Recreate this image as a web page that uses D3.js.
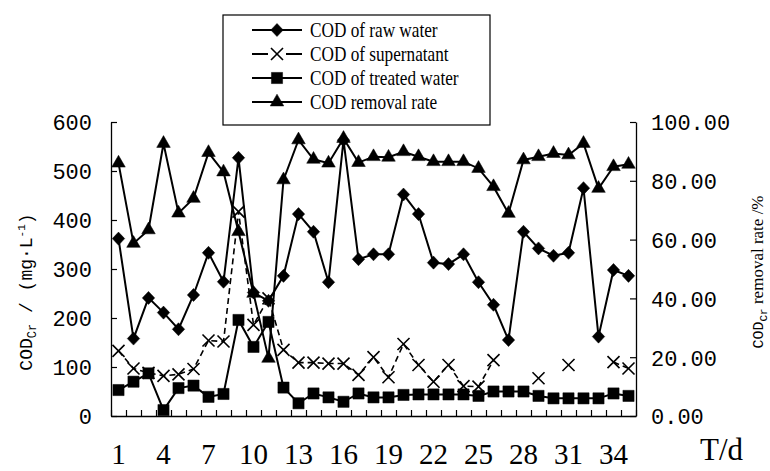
<!DOCTYPE html>
<html><head><meta charset="utf-8">
<script src="https://cdn.jsdelivr.net/npm/d3@7"></script>
<style>body{margin:0;background:#fff}svg{display:block}</style>
</head><body>
<svg id="c" width="770" height="471"></svg>
<script>
const days = d3.range(1, 36);
const xTickLabels = [1,4,7,10,13,16,19,22,25,28,31,34];
const leftTicks = [0,100,200,300,400,500,600];
const rightTicks = [0,20,40,60,80,100];
const rawWater = [362,158,241,211,177,247,333,274,527,252,235,286,412,376,273,563,320,330,330,452,412,313,310,330,273,227,155,376,342,327,333,465,162,298,286];
const supernatant = [133,97,88,82,85,96,154,152,417,186,240,135,109,109,107,107,84,120,79,147,104,70,104,61,60,114,null,null,77,null,104,null,null,110,97];
const treatedWater = [53,70,87,12,57,62,39,45,196,141,192,58,26,46,38,29,46,38,38,43,44,44,44,44,41,50,50,50,41,36,36,36,36,46,41];
const removalRate = [86.0,58.7,63.3,92.7,69.0,74.0,89.6,83.0,62.7,41.7,19.6,80.3,93.9,87.3,86.0,94.4,86.2,88.2,88.0,89.9,88.2,86.5,86.5,86.5,84.2,78.0,68.9,87.1,88.2,89.3,88.8,92.7,77.4,84.8,85.6];
const legendLabels = ["COD of raw water","COD of supernatant","COD of treated water","COD removal rate"];

const svg = d3.select("#c");
const L = 111, R = 636, T = 122, B = 416;
const x = d3.scaleBand().domain(days).range([L, R]).padding(0);
const xb = d3.scaleLinear().domain([0, days.length]).range([L, R]);
const cx = d => x(d) + x.bandwidth() / 2;
const yL = d3.scaleLinear().domain([0, 600]).range([B, T]);
const yR = d3.scaleLinear().domain([0, 100]).range([B, T]);

const mono = "'Liberation Mono', monospace";
const serif = "'Liberation Serif', 'Times New Roman', serif";

// Axes
svg.append("g").attr("transform", `translate(0,${B})`)
  .call(d3.axisBottom(xb).tickValues(d3.range(0, days.length + 1)).tickSize(-6).tickSizeOuter(0).tickFormat(""));
const gxLab = svg.append("g").attr("transform", `translate(0,${B})`)
  .call(d3.axisBottom(x).tickValues(xTickLabels).tickSize(0).tickPadding(0));
gxLab.select(".domain").remove();
gxLab.selectAll("text").attr("dy", null).attr("y", 48).attr("font-family", serif).attr("font-size", 29).attr("fill", "#000");

const gl = svg.append("g").attr("transform", `translate(${L},0)`)
  .call(d3.axisLeft(yL).tickValues(leftTicks).tickSize(-6).tickSizeOuter(0).tickPadding(19));
gl.selectAll("text").attr("font-family", mono).attr("font-size", 22).attr("fill", "#000").attr("dy", "0.36em");

const gr = svg.append("g").attr("transform", `translate(${R},0)`)
  .call(d3.axisRight(yR).tickValues(rightTicks).tickSize(-6).tickSizeOuter(0).tickPadding(15).tickFormat(d3.format(".2f")));
gr.selectAll("text").attr("font-family", mono).attr("font-size", 22).attr("fill", "#000").attr("dy", "0.36em");

svg.selectAll(".domain").attr("stroke", "#000").attr("stroke-width", 1.3);
svg.selectAll(".tick line").attr("stroke", "#000").attr("stroke-width", 1.2);

// Symbols
const diamondType = { draw(ctx, size) { const r = Math.sqrt(size) / 2; ctx.moveTo(0, -r); ctx.lineTo(r * 0.95, 0); ctx.lineTo(0, r); ctx.lineTo(-r * 0.95, 0); ctx.closePath(); } };
const sym = {
  diamond: d3.symbol().type(diamondType).size(170),
  x: d3.symbol().type(d3.symbolX).size(96),
  square: d3.symbol().type(d3.symbolSquare).size(125),
  triangle: d3.symbol().type(d3.symbolTriangle).size(80)
};

function series(vals, yScale, symbol, dashed) {
  const data = days.map((d, i) => ({ d, v: vals[i] }));
  const line = d3.line().defined(p => p.v != null).x(p => cx(p.d)).y(p => yScale(p.v));
  svg.append("path").datum(data).attr("d", line).attr("fill", "none").attr("stroke", "#000")
    .attr("stroke-width", dashed ? 1.6 : 2).attr("stroke-dasharray", dashed ? "6,4" : null);
  const pts = data.filter(p => p.v != null);
  svg.append("g").selectAll("path").data(pts).join("path")
    .attr("transform", p => `translate(${cx(p.d)},${yScale(p.v)})`)
    .attr("d", sym[symbol]())
    .attr("fill", symbol === "x" ? "none" : "#000")
    .attr("stroke", "#000").attr("stroke-width", symbol === "x" ? 1.6 : 0.5);
}
series(supernatant, yL, "x", true);
series(treatedWater, yL, "square", false);
series(rawWater, yL, "diamond", false);
series(removalRate, yR, "triangle", false);

// Legend
const lg = svg.append("g");
lg.append("rect").attr("x", 223).attr("y", 15).attr("width", 267).attr("height", 110)
  .attr("fill", "#fff").attr("stroke", "#000").attr("stroke-width", 1.2);
const legSyms = ["diamond", "x", "square", "triangle"];
legendLabels.forEach((t, i) => {
  const yy = 30 + i * 24;
  if (legSyms[i] === "x") {
    lg.append("line").attr("x1", 252).attr("x2", 268).attr("y1", yy).attr("y2", yy).attr("stroke", "#000").attr("stroke-width", 2);
    lg.append("line").attr("x1", 286).attr("x2", 302).attr("y1", yy).attr("y2", yy).attr("stroke", "#000").attr("stroke-width", 2);
  } else {
    lg.append("line").attr("x1", 252).attr("x2", 302).attr("y1", yy).attr("y2", yy).attr("stroke", "#000").attr("stroke-width", 2);
  }
  lg.append("path").attr("transform", `translate(277,${yy})`).attr("d", sym[legSyms[i]]())
    .attr("fill", legSyms[i] === "x" ? "none" : "#000").attr("stroke", "#000").attr("stroke-width", legSyms[i] === "x" ? 1.6 : 0.5);
  lg.append("text").attr("transform", `translate(310,${yy + 7}) scale(0.82,1)`)
    .attr("font-family", serif).attr("font-size", 21).attr("fill", "#000").text(t);
});

// Axis titles
const lt = svg.append("text").attr("transform", "translate(32,292) rotate(-90)")
  .attr("text-anchor", "middle").attr("font-family", mono).attr("font-size", 18).attr("fill", "#000");
lt.append("tspan").text("COD");
lt.append("tspan").attr("font-size", 12).attr("dy", 4).text("Cr");
lt.append("tspan").attr("dy", -4).text(" / (mg·L");
lt.append("tspan").attr("font-size", 11).attr("dy", -7).text("-1");
lt.append("tspan").attr("dy", 7).text(")");

const rt = svg.append("text").attr("transform", "translate(763,272) rotate(-90)")
  .attr("text-anchor", "middle").attr("font-family", serif).attr("font-size", 17).attr("fill", "#000");
rt.append("tspan").attr("font-family", mono).attr("font-size", 15).text("COD");
rt.append("tspan").attr("font-family", mono).attr("font-size", 11).attr("dy", 4).text("Cr");
rt.append("tspan").attr("dy", -4).text(" removal rate /%");

svg.append("text").attr("x", 700).attr("y", 460).attr("font-family", serif).attr("font-size", 31).attr("fill", "#000").text("T/d");
</script>
</body></html>
